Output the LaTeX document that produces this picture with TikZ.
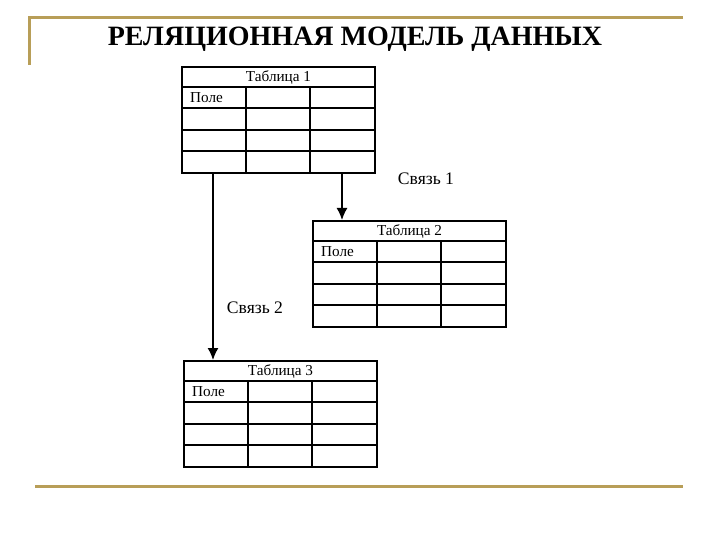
\documentclass[tikz,border=0pt]{standalone}
\usepackage{fontspec}
\setmainfont{Liberation Serif}
\usetikzlibrary{arrows.meta,calc}
\definecolor{gold}{RGB}{184,158,88}
\tikzset{
  tabl/.style={draw,line width=2pt,minimum width=193pt,minimum height=106pt,
    anchor=north west,inner sep=0pt},
  cell/.style={line width=1.2pt},
  svyaz/.style={line width=1.5pt,-{Latex[length=12pt,width=11pt]}},
  lbl/.style={font=\fontsize{15.2}{17}\selectfont,inner sep=0pt}
}
\begin{document}
\begin{tikzpicture}[x=1pt,y=-1pt]
  \useasboundingbox (0,0) rectangle (720,540);
  % frame
  \draw[gold,line width=3pt] (29,65) -- (29,18) -- (683,18);
  \draw[gold,line width=3pt] (35,486) -- (683,486);
  \node[font=\fontsize{28}{32}\selectfont\bfseries] (title) at (355,39)
    {РЕЛЯЦИОННАЯ МОДЕЛЬ ДАННЫХ};
  % tables
  \foreach \n/\x/\y in {1/181/66,2/312/220,3/183/360} {
    \node[tabl] (t\n) at (\x,\y) {};
    \node[lbl] (h\n) at ($(t\n.north)+(0,11.5)$) {Таблица \n};
    \node[lbl,anchor=west] (f\n) at ($(t\n.north west)+(9,32)$) {Поле};
    \draw[line width=1.6pt] ($(t\n.north west)+(0,21)$) -- ($(t\n.north east)+(0,21)$);
    \foreach \r in {42,64,85}
      \draw[cell] ($(t\n.north west)+(0,\r)$) -- ($(t\n.north east)+(0,\r)$);
    \foreach \c in {65,129}
      \draw[cell] ($(t\n.north west)+(\c,21)$) -- ($(t\n.south west)+(\c,0)$);
  }
  % links
  \coordinate (a1) at (342,0);
  \coordinate (a2) at (213,0);
  \draw[svyaz] (t1.south -| a1) -- (t2.north -| a1);
  \draw[svyaz] (t1.south -| a2) -- (t3.north -| a2);
  \node[font=\fontsize{17.6}{20}\selectfont] (s1) at (426,179) {Связь 1};
  \node[font=\fontsize{17.6}{20}\selectfont] (s2) at (255,308) {Связь 2};
\end{tikzpicture}
\end{document}
